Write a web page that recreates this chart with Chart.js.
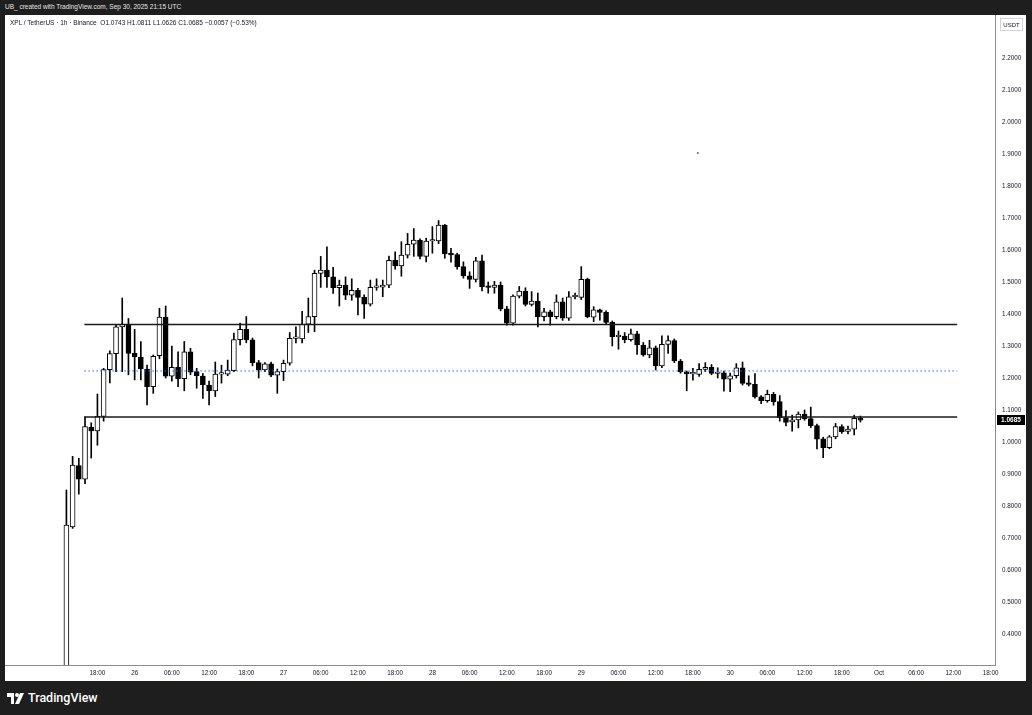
<!DOCTYPE html>
<html>
<head>
<meta charset="utf-8">
<script src="https://cdn.jsdelivr.net/npm/chart.js"></script>
<style>
  body { margin: 0; background: #1e1e1e; width: 1032px; height: 715px; overflow: hidden; font-family: "Liberation Sans", Arial, sans-serif; }
  #hdr { position: absolute; left: 5px; top: 3px; color: #e6e6e6; font-size: 6.5px; line-height: 8px; white-space: nowrap; }
  #wrap { position: absolute; left: 5px; top: 15px; width: 1021px; height: 666px; background: #fff; }
  #legend { position: absolute; left: 10px; top: 19px; color: #131722; font-size: 6.5px; line-height: 8px; white-space: pre; }
  #logo { position: absolute; left: 7px; top: 690px; color: #fff; font-family: Roboto, sans-serif; font-weight: 500; font-size: 12.5px; line-height: 16px; display: flex; align-items: center; gap: 4px; }
</style>
</head>
<body>
<div id="hdr">UB_ created with TradingView.com, Sep 30, 2025 21:15 UTC</div>
<div id="wrap"><canvas id="grafica" width="1021" height="666"></canvas></div>
<div id="legend">XPL / TetherUS · 1h · Binance  O1.0743 H1.0811 L1.0626 C1.0685 −0.0057 (−0.53%)</div>
<div id="logo">
  <svg width="17" height="11" viewBox="0 0 17 11"><path d="M0 0H7V11H4V4H0Z" fill="#fff"/><circle cx="10" cy="2" r="2" fill="#fff"/><path d="M13 0H17L12 11H8Z" fill="#fff"/></svg>
  <span>TradingView</span>
</div>
<script>
// velas 1h desde el 25 sep 13:00 UTC (indice = horas)
var aperturas = [0.25, 0.735, 0.926, 0.884, 1.047, 1.035, 1.08, 1.226, 1.276, 1.36,
    1.366, 1.277, 1.265, 1.228, 1.173, 1.27, 1.39, 1.206, 1.233, 1.198,
    1.282, 1.22, 1.206, 1.178, 1.16, 1.212, 1.212, 1.223, 1.32, 1.352,
    1.319, 1.248, 1.225, 1.244, 1.209, 1.22, 1.246, 1.324, 1.322, 1.368,
    1.392, 1.527, 1.537, 1.516, 1.482, 1.49, 1.459, 1.474, 1.452, 1.431,
    1.483, 1.484, 1.49, 1.568, 1.55, 1.584, 1.618, 1.63, 1.58, 1.628,
    1.628, 1.678, 1.588, 1.586, 1.548, 1.519, 1.508, 1.566, 1.486, 1.483,
    1.49, 1.416, 1.371, 1.456, 1.472, 1.43, 1.44, 1.392, 1.407, 1.392,
    1.438, 1.387, 1.454, 1.452, 1.508, 1.39, 1.413, 1.405, 1.374, 1.329,
    1.331, 1.32, 1.338, 1.303, 1.272, 1.294, 1.238, 1.305, 1.317, 1.253,
    1.219, 1.213, 1.211, 1.227, 1.233, 1.214, 1.216, 1.196, 1.207, 1.232,
    1.183, 1.18, 1.141, 1.129, 1.149, 1.126, 1.076, 1.063, 1.069, 1.087,
    1.073, 1.051, 1.01, 0.982, 1.016, 1.048, 1.033, 1.04, 1.0743];
var maximos = [0.85, 0.955, 0.949, 1.079, 1.06, 1.15, 1.23, 1.285, 1.365, 1.45,
    1.386, 1.352, 1.314, 1.24, 1.272, 1.418, 1.425, 1.3, 1.282, 1.314,
    1.293, 1.23, 1.214, 1.19, 1.25, 1.24, 1.256, 1.34, 1.372, 1.392,
    1.325, 1.255, 1.248, 1.25, 1.228, 1.256, 1.342, 1.36, 1.408, 1.45,
    1.537, 1.58, 1.61, 1.546, 1.506, 1.516, 1.51, 1.48, 1.46, 1.506,
    1.51, 1.506, 1.581, 1.594, 1.626, 1.652, 1.667, 1.635, 1.637, 1.673,
    1.692, 1.68, 1.605, 1.59, 1.563, 1.532, 1.577, 1.584, 1.5, 1.502,
    1.5, 1.424, 1.46, 1.486, 1.482, 1.47, 1.465, 1.418, 1.412, 1.46,
    1.45, 1.47, 1.465, 1.548, 1.512, 1.423, 1.415, 1.41, 1.378, 1.347,
    1.342, 1.353, 1.346, 1.311, 1.318, 1.3, 1.332, 1.332, 1.322, 1.258,
    1.222, 1.23, 1.245, 1.248, 1.242, 1.232, 1.222, 1.215, 1.245, 1.25,
    1.207, 1.214, 1.145, 1.162, 1.155, 1.145, 1.098, 1.084, 1.094, 1.1,
    1.109, 1.056, 1.015, 1.02, 1.058, 1.054, 1.05, 1.084, 1.0811];
var minimos = [0.25, 0.73, 0.837, 0.87, 0.95, 0.99, 1.065, 1.185, 1.22, 1.22,
    1.21, 1.194, 1.194, 1.116, 1.152, 1.26, 1.2, 1.19, 1.173, 1.16,
    1.21, 1.168, 1.136, 1.116, 1.142, 1.184, 1.207, 1.22, 1.303, 1.31,
    1.238, 1.2, 1.22, 1.204, 1.152, 1.192, 1.24, 1.31, 1.31, 1.342,
    1.345, 1.483, 1.483, 1.464, 1.425, 1.445, 1.443, 1.397, 1.386, 1.425,
    1.474, 1.454, 1.482, 1.54, 1.518, 1.575, 1.58, 1.572, 1.563, 1.59,
    1.62, 1.574, 1.562, 1.54, 1.512, 1.48, 1.5, 1.472, 1.465, 1.465,
    1.41, 1.365, 1.365, 1.45, 1.425, 1.425, 1.36, 1.378, 1.365, 1.385,
    1.38, 1.38, 1.447, 1.445, 1.388, 1.376, 1.381, 1.37, 1.3, 1.29,
    1.31, 1.315, 1.274, 1.268, 1.263, 1.225, 1.232, 1.277, 1.248, 1.215,
    1.16, 1.193, 1.205, 1.22, 1.21, 1.2, 1.159, 1.157, 1.2, 1.178,
    1.175, 1.137, 1.12, 1.124, 1.115, 1.065, 1.05, 1.034, 1.044, 1.068,
    1.045, 0.978, 0.951, 0.979, 1.01, 1.027, 1.025, 1.022, 1.0626];
var cierres = [0.74, 0.928, 0.884, 1.048, 1.035, 1.08, 1.226, 1.276, 1.36, 1.368,
    1.277, 1.266, 1.228, 1.173, 1.268, 1.39, 1.206, 1.233, 1.197, 1.282,
    1.218, 1.207, 1.178, 1.16, 1.212, 1.213, 1.225, 1.32, 1.352, 1.319,
    1.248, 1.225, 1.244, 1.209, 1.22, 1.246, 1.324, 1.328, 1.368, 1.392,
    1.527, 1.537, 1.516, 1.482, 1.49, 1.459, 1.474, 1.452, 1.431, 1.483,
    1.485, 1.49, 1.568, 1.55, 1.584, 1.618, 1.631, 1.58, 1.628, 1.629,
    1.678, 1.588, 1.585, 1.548, 1.519, 1.508, 1.566, 1.485, 1.483, 1.49,
    1.416, 1.371, 1.456, 1.472, 1.43, 1.44, 1.392, 1.407, 1.392, 1.438,
    1.387, 1.454, 1.457, 1.508, 1.392, 1.413, 1.405, 1.374, 1.329, 1.331,
    1.32, 1.338, 1.303, 1.272, 1.294, 1.238, 1.305, 1.317, 1.253, 1.219,
    1.213, 1.214, 1.227, 1.233, 1.214, 1.216, 1.196, 1.207, 1.232, 1.183,
    1.18, 1.141, 1.129, 1.149, 1.126, 1.076, 1.061, 1.069, 1.087, 1.073,
    1.051, 1.009, 0.982, 1.016, 1.048, 1.032, 1.04, 1.074, 1.0685];

// niveles dibujados
var nivelesNegros = [1.367, 1.078];
var nivelPunteado = 1.222;
var inicioNiveles = 2.9;
var finNiveles = 143.6;
var puntoSuelto = {x: 101.8, y: 1.903};

// ejes
var etiquetasX = ['18:00', '26', '06:00', '12:00', '18:00', '27', '06:00', '12:00', '18:00',
    '28', '06:00', '12:00', '18:00', '29', '06:00', '12:00', '18:00', '30', '06:00',
    '12:00', '18:00', 'Oct', '06:00', '12:00', '18:00'];
var primeraEtiquetaX = 5;   // 25 sep 18:00
var pasoEtiquetasX = 6;
var marcasY = [0.4, 0.5, 0.6, 0.7, 0.8, 0.9, 1.0, 1.1, 1.2, 1.3, 1.4, 1.5, 1.6, 1.7, 1.8, 1.9, 2.0, 2.1, 2.2];
var xMin = -9.9, xMax = 149.7;
var yMin = 0.3031, yMax = 2.3344;

var fuente = '"Liberation Sans", Arial, sans-serif';

// sin relleno extra alrededor del area del grafico
function sinRelleno(s) {
    s.paddingTop = 0;
    s.paddingBottom = 0;
    s.paddingLeft = 0;
    s.paddingRight = 0;
}

// etiqueta de precio y caja USDT en el eje
var etiquetaPrecio = {
    id: 'etiquetaPrecio',
    afterDraw: function (chart) {
        var ctx = chart.ctx;
        var area = chart.chartArea;
        var ultimo = cierres[cierres.length - 1];
        var py = chart.scales.y.getPixelForValue(ultimo);
        ctx.save();
        ctx.fillStyle = '#000';
        ctx.fillRect(area.right + 2, Math.round(py) - 5, 28, 10);
        ctx.fillStyle = '#fff';
        ctx.font = 'bold 6.5px ' + fuente;
        ctx.textAlign = 'center';
        ctx.textBaseline = 'middle';
        ctx.fillText(ultimo.toFixed(4), area.right + 16, Math.round(py) + 0.5);

        ctx.strokeStyle = '#d4d4d4';
        ctx.lineWidth = 1;
        ctx.strokeRect(area.right + 5.5, 3.5, 22, 12);
        ctx.fillStyle = '#131722';
        ctx.font = '6px ' + fuente;
        ctx.fillText('USDT', area.right + 16.5, 10);
        ctx.restore();
    }
};

var datasets = [{
    type: 'bar',
    label: 'mechas',
    data: aperturas.map((o, i) => ({x: i, y: [minimos[i], maximos[i]]})),
    backgroundColor: '#000',
    barThickness: 1,
    grouped: false,
    order: 3
}, {
    type: 'bar',
    label: 'cuerpos',
    data: aperturas.map((o, i) => ({x: i, y: [o, cierres[i]]})),
    backgroundColor: function (c) {
        if (c.dataIndex === undefined) return '#000';
        return cierres[c.dataIndex] >= aperturas[c.dataIndex] ? '#fff' : '#000';
    },
    borderColor: '#000',
    borderWidth: 1,
    borderSkipped: false,
    barThickness: 5,
    minBarLength: 1.5,
    grouped: false,
    order: 2
}];

nivelesNegros.forEach(function (nivel) {
    datasets.push({
        type: 'line',
        data: [{x: inicioNiveles, y: nivel}, {x: finNiveles, y: nivel}],
        borderColor: '#1a1a1a',
        borderWidth: 1.6,
        pointRadius: 0,
        pointHoverRadius: 0,
        order: 1
    });
});

datasets.push({
    type: 'line',
    data: [{x: inicioNiveles, y: nivelPunteado}, {x: finNiveles, y: nivelPunteado}],
    borderColor: '#2962ff',
    borderWidth: 1,
    borderDash: [1.5, 2.5],
    pointRadius: 0,
    pointHoverRadius: 0,
    order: 1
});

datasets.push({
    type: 'line',
    data: [puntoSuelto],
    showLine: false,
    pointRadius: 0.8,
    pointHoverRadius: 0.8,
    backgroundColor: '#000',
    borderWidth: 0,
    order: 1
});

var ctxGrafica = document.getElementById('grafica').getContext('2d');
var grafica = new Chart(ctxGrafica, {
    type: 'bar',
    data: {datasets: datasets},
    plugins: [etiquetaPrecio],
    options: {
        responsive: false,
        animation: false,
        devicePixelRatio: 1,
        layout: {padding: 0, autoPadding: false},
        plugins: {
            legend: {display: false},
            tooltip: {enabled: false}
        },
        scales: {
            x: {
                type: 'linear',
                position: 'bottom',
                min: xMin,
                max: xMax,
                offset: false,
                grid: {display: false, drawTicks: false},
                border: {color: '#8c8c8c', width: 1},
                afterBuildTicks: function (s) {
                    s.ticks = etiquetasX.map((l, k) => ({value: primeraEtiquetaX + k * pasoEtiquetasX}));
                },
                afterFit: function (s) { s.height = 16; sinRelleno(s); },
                ticks: {
                    autoSkip: false,
                    maxRotation: 0,
                    minRotation: 0,
                    padding: 4,
                    color: '#131722',
                    font: {size: 6.3, family: fuente},
                    callback: function (v, k) { return etiquetasX[k]; }
                }
            },
            y: {
                type: 'linear',
                position: 'right',
                min: yMin,
                max: yMax,
                grid: {display: false, drawTicks: false},
                border: {color: '#8c8c8c', width: 1},
                afterBuildTicks: function (s) {
                    s.ticks = marcasY.map(v => ({value: v}));
                },
                afterFit: function (s) { s.width = 31; sinRelleno(s); },
                ticks: {
                    padding: 7,
                    color: '#131722',
                    font: {size: 6.3, family: fuente},
                    callback: function (v) { return Number(v).toFixed(4); }
                }
            }
        }
    }
});
</script>
</body>
</html>
